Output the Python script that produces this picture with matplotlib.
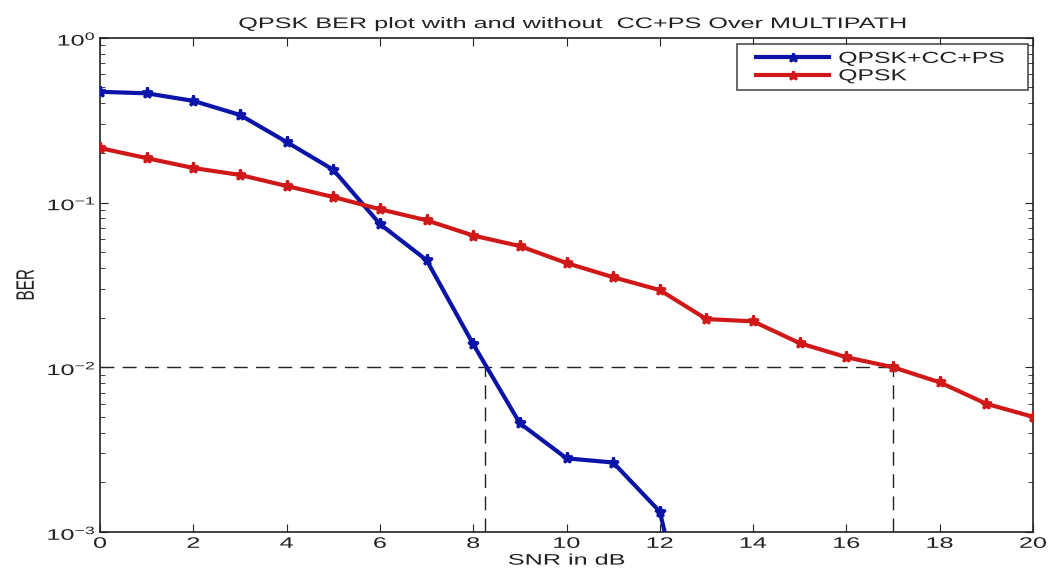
import matplotlib
matplotlib.use("Agg")
import matplotlib.pyplot as plt
from matplotlib.ticker import LogLocator, NullFormatter
from matplotlib.patheffects import AbstractPathEffect
from matplotlib.transforms import Affine2D
from matplotlib.lines import Line2D
from matplotlib.legend_handler import HandlerLine2D

plt.rcParams['font.family'] = ['Liberation Sans', 'DejaVu Sans']

snr_cc = [0, 1, 2, 3, 4, 5, 6, 7, 8, 9, 10, 11, 12, 13]
ber_cc = [0.47, 0.46, 0.414, 0.34, 0.233, 0.158, 0.074, 0.0447, 0.0138,
          0.00457, 0.0028, 0.00264, 0.00133, 8.5e-5]
snr_q = list(range(0, 21))
ber_q = [0.214, 0.186, 0.162, 0.147, 0.126, 0.108, 0.091, 0.078, 0.063,
         0.0544, 0.0429, 0.0352, 0.0294, 0.0196, 0.019, 0.014, 0.0115,
         0.010, 0.0081, 0.006, 0.005]
ref_ber = 1e-2
snr_cc_at_ref = 8.25
snr_q_at_ref = 17.0
labels = ['QPSK+CC+PS', 'QPSK']
title = 'QPSK BER plot with and without  CC+PS Over MULTIPATH'


class HStretch(AbstractPathEffect):
    """Widen glyphs horizontally (the reference uses a stretched font)."""
    def __init__(self, sx=1.65, anchor='center'):
        super().__init__()
        self.sx = sx
        self.anchor = anchor

    def draw_path(self, renderer, gc, tpath, affine, rgbFace=None):
        ext = tpath.get_extents(affine)
        if self.anchor == 'right':
            cx = ext.x1
        elif self.anchor == 'left':
            cx = ext.x0
        else:
            cx = 0.5 * (ext.x0 + ext.x1)
        t = affine + Affine2D().translate(-cx, 0).scale(self.sx, 1).translate(cx, 0)
        renderer.draw_path(gc, tpath, t, rgbFace)


SX = 1.65
FS = 11
txtcol = '#222222'

fig = plt.figure(figsize=(10.53, 5.74), dpi=100)
ax = fig.add_axes([0.095, 0.0732, 0.886, 0.861])

ax.semilogy(snr_cc, ber_cc, '-', color='#0a14a8', lw=3, marker='*',
            ms=8, mew=2, label=labels[0], zorder=3)
ax.semilogy(snr_q, ber_q, '-', color='#d01818', lw=3, marker='*',
            ms=8, mew=2, label=labels[1], zorder=3)

dash = dict(color='#222222', lw=1, ls=(0, (10, 6)), zorder=2)
ax.plot([0, snr_q_at_ref], [ref_ber, ref_ber], **dash)
ax.plot([snr_cc_at_ref, snr_cc_at_ref], [1e-3, ref_ber], **dash)
ax.plot([snr_q_at_ref, snr_q_at_ref], [1e-3, ref_ber], **dash)

ax.set_xlim(0, 20)
ax.set_ylim(1e-3, 1)
ax.set_xticks(range(0, 21, 2))
ax.yaxis.set_major_locator(LogLocator(base=10, numticks=10))
ax.yaxis.set_minor_locator(LogLocator(base=10, subs=range(2, 10), numticks=10))
ax.yaxis.set_minor_formatter(NullFormatter())
ax.tick_params(which='both', direction='in', top=True, right=True,
               labelsize=FS, colors=txtcol)
ax.tick_params(which='major', length=6)
ax.tick_params(axis='y', which='major', pad=3)
ax.tick_params(which='minor', length=3.5)
for s in ax.spines.values():
    s.set_linewidth(1.2)
    s.set_color(txtcol)

ax.set_xlabel('SNR in dB', fontsize=FS, color=txtcol, labelpad=2,
              path_effects=[HStretch(SX, 'center')])
ax.set_ylabel('BER', fontsize=FS, color=txtcol,
              path_effects=[HStretch(SX, 'center')])
ax.yaxis.label.set_verticalalignment('center')
ax.yaxis.set_label_coords(-0.079, 0.5)
ax.set_title(title, fontsize=FS, color=txtcol, pad=7, x=0.506,
             path_effects=[HStretch(SX, 'center')])

leg = ax.legend(loc='upper left', bbox_to_anchor=(0.683, 0.5, 0.3116, 0.488),
                mode='expand', borderaxespad=0, fontsize=11.5, frameon=True,
                fancybox=False, edgecolor='#222222', handlelength=5.3,
                handletextpad=0.6, labelspacing=0.15, borderpad=0.45,
                markerscale=0.8,
                handler_map={Line2D: HandlerLine2D(xpad=0.75)})
leg.get_frame().set_linewidth(1.2)
for t in leg.get_texts():
    t.set_color(txtcol)
    t.set_path_effects([HStretch(1.55, 'left')])

fig.canvas.draw()
for lbl in ax.get_xticklabels():
    lbl.set_path_effects([HStretch(SX, 'center')])
for lbl in ax.get_yticklabels():
    lbl.set_path_effects([HStretch(SX, 'right')])

fig.savefig('out.png', dpi=100)
